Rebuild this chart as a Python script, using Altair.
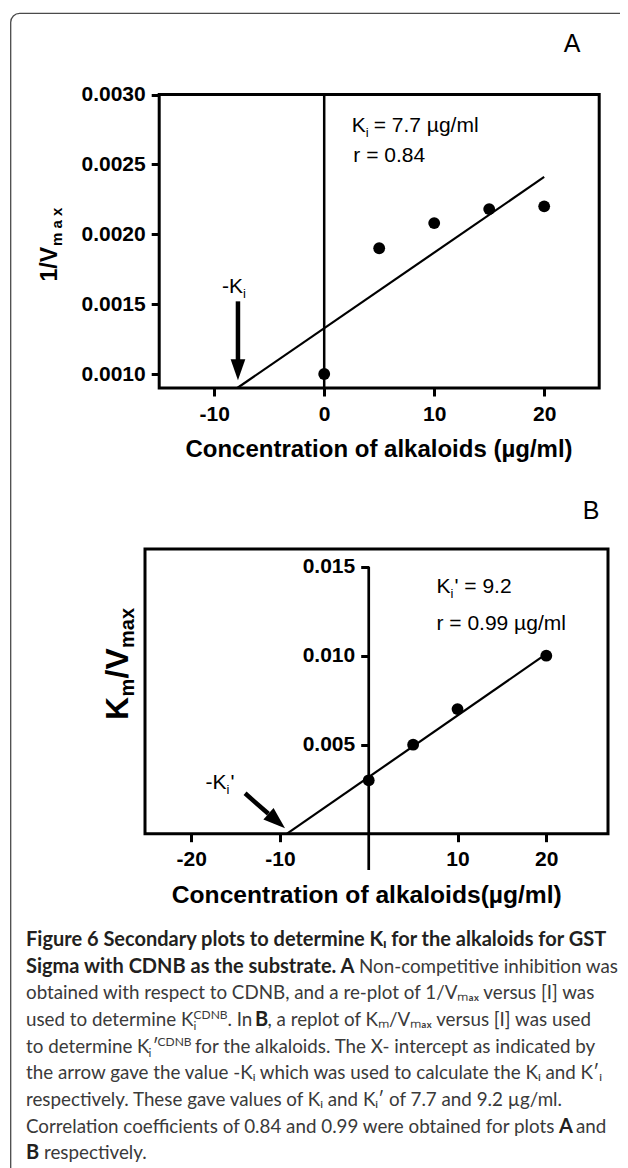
import altair as alt
import pandas as pd

# ---------------- values ----------------
a_conc = [0, 5, 10, 15, 20]
a_inv_vmax = [0.00100, 0.00190, 0.00208, 0.00218, 0.00220]
a_fit_conc = [-7.9, 20.0]
a_fit_value = [0.00090, 0.00241]
a_x_ticks = [-10, 0, 10, 20]
a_y_ticks = [0.0010, 0.0015, 0.0020, 0.0025, 0.0030]

b_conc = [0, 5, 10, 20]
b_km_vmax = [0.0030, 0.0050, 0.0070, 0.0100]
b_fit_conc = [-9.2, 20.0]
b_fit_value = [0.0, 0.0101]
b_x_ticks = [-20, -10, 10, 20]
b_y_ticks = [0.005, 0.010, 0.015]

x_title_a = "Concentration of alkaloids (µg/ml)"
x_title_b = "Concentration of alkaloids(µg/ml)"

# caption runs: (text, kind) with kind r=regular, b=bold, sub, sup
caption_runs = [
    [("Figure 6 Secondary plots to determine Kᵢ for the alkaloids for GST", "b")],
    [("Sigma with CDNB as the substrate. A", "b"), ("Non-competitive inhibition was", "r")],
    [("obtained with respect to CDNB, and a re-plot of 1/Vₘₐₓ versus [I] was", "r")],
    [("used to determine K", "r"), ("i", "sub"), ("CDNB", "sup"), (". In", "r"), ("B", "b"),
     (", a replot of Kₘ/Vₘₐₓ versus [I] was used", "r")],
    [("to determine K", "r"), ("i", "sub"), ("′", "r"), ("CDNB", "sup"),
     ("for the alkaloids. The X- intercept as indicated by", "r")],
    [("the arrow gave the value -Kᵢ which was used to calculate the Kᵢ and K′ᵢ", "r")],
    [("respectively. These gave values of Kᵢ and Kᵢ′ of 7.7 and 9.2 µg/ml.", "r")],
    [("Correlation coefficients of 0.84 and 0.99 were obtained for plots", "r"), ("A", "b"), ("and", "r")],
    [("B", "b"), ("respectively.", "r")],
]

# ---------------- layout (canvas pixels) ----------------
W, H = 612, 1160
OFF = 8  # page margin


def cx(px):
    return px - OFF


def cy(py):
    return py - OFF


FONT = "Liberation Sans"
CAP_FONT = "Lato"

A_XDOM = [-15, 25]
A_YDOM = [0.0009, 0.0030]
A_XR = [cx(159.2), cx(599.2)]
A_YR = [cy(388.0), cy(94.5)]

B_XDOM = [-25.2, 26.95]
B_YDOM = [0.0, 0.016]
B_XR = [cx(145.0), cx(608.0)]
B_YR = [cy(833.7), cy(548.9)]


def S(dom, rng):
    return alt.Scale(domain=dom, range=rng, nice=False, zero=False)


ONE = pd.DataFrame({"k": [0]})

axis_style = dict(
    domain=False, grid=False, ticks=True, tickSize=8, tickWidth=3, tickColor="black",
    labelFont=FONT, labelFontWeight="bold", labelFontSize=21, labelColor="black",
    labelFlush=False, labelOverlap=False, title=None, zindex=1,
    labelExpr="replace(datum.label, '\u2212', '-')",
)


class Panel:
    def __init__(self, xdom, ydom, xr, yr):
        self.xdom, self.ydom, self.xr, self.yr = xdom, ydom, xr, yr

    def X(self, field, axis=None):
        return alt.X(field, scale=S(self.xdom, self.xr), axis=axis)

    def Y(self, field, axis=None):
        return alt.Y(field, scale=S(self.ydom, self.yr), axis=axis)

    def XD(self, v):
        return alt.XDatum(v, scale=S(self.xdom, self.xr), axis=None)

    def YD(self, v):
        return alt.YDatum(v, scale=S(self.ydom, self.yr), axis=None)

    def label(self, text, x, y, size=21, dx=0, dy=0):
        return alt.Chart(ONE).mark_text(
            text=text, fontSize=size, dx=dx, dy=dy, align="left",
            baseline="alphabetic", font=FONT, color="black",
        ).encode(x=self.XD(x), y=self.YD(y))

    def frame(self):
        df = pd.DataFrame({"x": [self.xdom[0]], "x2": [self.xdom[1]],
                           "y": [self.ydom[0]], "y2": [self.ydom[1]]})
        return alt.Chart(df).mark_rect(fillOpacity=0, stroke="black", strokeWidth=3).encode(
            x=self.X("x:Q"), x2="x2:Q", y=self.Y("y:Q"), y2="y2:Q")

    def head(self, x, y, size, angle):
        return alt.Chart(ONE).mark_point(
            shape="M-0.7,-1L0.7,-1L0,1Z", filled=True, color="black", opacity=1,
            size=size, angle=angle,
        ).encode(x=self.XD(x), y=self.YD(y))

    def shaft(self, x1, y1, x2, y2, width):
        df = pd.DataFrame({"x": [x1, x2], "y": [y1, y2]})
        return alt.Chart(df).mark_line(color="black", strokeWidth=width).encode(
            x=self.X("x:Q"), y=self.Y("y:Q"))

    def zero_rule(self, y1, y2, width):
        return alt.Chart(ONE).mark_rule(color="black", strokeWidth=width).encode(
            x=self.XD(0), y=self.YD(y1), y2=alt.Y2Datum(y2))


# ---------------- panel A ----------------
pA = Panel(A_XDOM, A_YDOM, A_XR, A_YR)
dfA = pd.DataFrame({"conc": a_conc, "val": a_inv_vmax})
fitA = pd.DataFrame({"conc": a_fit_conc, "val": a_fit_value})

axA_x = alt.Axis(orient="bottom", offset=-(H - A_YR[0]), values=a_x_ticks, format="d",
                 labelPadding=7, **axis_style)
axA_y = alt.Axis(orient="left", offset=-A_XR[0], values=a_y_ticks, format=".4f",
                 labelPadding=6, **axis_style)

layers_A = [
    pA.frame(),
    pA.zero_rule(A_YDOM[0], A_YDOM[1], 2.5),
    alt.Chart(fitA).mark_line(color="black", strokeWidth=2.2).encode(
        x=pA.X("conc:Q"), y=pA.Y("val:Q")),
    alt.Chart(dfA).mark_circle(size=140, color="black", opacity=1).encode(
        x=pA.X("conc:Q", axA_x), y=pA.Y("val:Q", axA_y)),
    pA.label("K", 2.5, 0.00273),
    pA.label("i", 2.5, 0.00273, size=13, dx=14, dy=5),
    pA.label("= 7.7 µg/ml", 2.5, 0.00273, dx=22),
    pA.label("r = 0.84", 2.65, 0.00252),
    pA.label("-K", -9.3, 0.00158),
    pA.label("i", -9.3, 0.00158, size=13, dx=21, dy=5),
    pA.shaft(-7.84, 0.00152, -7.84, 0.00110, 4.5),
    pA.head(-7.84, 0.00103, 441, 0),
]

# ---------------- panel B ----------------
pB = Panel(B_XDOM, B_YDOM, B_XR, B_YR)
dfB = pd.DataFrame({"conc": b_conc, "val": b_km_vmax})
fitB = pd.DataFrame({"conc": b_fit_conc, "val": b_fit_value})

axB_x = alt.Axis(orient="bottom", offset=-(H - B_YR[0]), values=b_x_ticks, format="d",
                 labelPadding=7, **axis_style)
axB_y = alt.Axis(orient="left", offset=-(cx(368.7)), values=b_y_ticks, format=".3f",
                 labelPadding=6, **axis_style)

layers_B = [
    pB.frame(),
    pB.zero_rule(b_y_ticks[-1], -0.00204, 2.7),
    alt.Chart(fitB).mark_line(color="black", strokeWidth=2.2).encode(
        x=pB.X("conc:Q"), y=pB.Y("val:Q")),
    alt.Chart(dfB).mark_circle(size=140, color="black", opacity=1).encode(
        x=pB.X("conc:Q", axB_x), y=pB.Y("val:Q", axB_y)),
    pB.label("K", 7.63, 0.01352),
    pB.label("i", 7.63, 0.01352, size=13, dx=14, dy=5),
    pB.label("' = 9.2", 7.63, 0.01352, dx=18),
    pB.label("r = 0.99 µg/ml", 7.63, 0.01144),
    pB.label("-K", -18.38, 0.00251),
    pB.label("i", -18.38, 0.00251, size=13, dx=21, dy=5),
    pB.label("'", -18.38, 0.00251, dx=25),
    pB.shaft(-13.93, 0.00227, -11.3, 0.00112, 4.5),
    pB.head(-10.36, 0.000713, 484, 311.2),
]


# ---------------- titles, labels, frame, caption (pixel placed) ----------------
def ptext(text, px, py, size, weight="normal", align="left", angle=0, font=FONT, color="black"):
    props = dict(text=text, fontSize=size, fontWeight=weight, align=align,
                 baseline="alphabetic", font=font, color=color)
    if angle:
        props["angle"] = angle
    return alt.Chart(ONE).mark_text(**props).encode(
        x=alt.value(cx(px)), y=alt.value(cy(py))
    )


border = alt.Chart(ONE).mark_rect(
    fillOpacity=0, stroke="#4a4a4a", strokeWidth=1.3, cornerRadius=9
).encode(
    x=alt.value(cx(10.7)), y=alt.value(cy(13.3)), x2=alt.value(W + 60), y2=alt.value(H + 60)
)

titles = [
    ptext("A", 572, 51.7, 25, align="center"),
    ptext("B", 591, 519.3, 25, align="center"),
    ptext(x_title_a, 379, 456.7, 24, weight="bold", align="center"),
    ptext(x_title_b, 366.8, 903.3, 24.6, weight="bold", align="center"),
    # 1/Vmax (rotated)
    ptext("1/V", 56.7, 281.5, 23, weight="bold", angle=270),
    ptext("m a x", 61.5, 246.0, 15, weight="bold", angle=270),
    # Km/Vmax (rotated)
    ptext("K", 127.5, 720.0, 32, weight="bold", angle=270),
    ptext("m", 133.5, 696.5, 20, weight="bold", angle=270),
    ptext("/V", 127.5, 678.5, 32, weight="bold", angle=270),
    ptext("max", 133.5, 648.0, 20, weight="bold", angle=270),
]

caption_x = [
    [26],
    [26, 359],
    [26],
    [26, 193.5, 193.5, 227.5, 255, 267.5],
    [26, 148.5, 152.5, 157.5, 195],
    [26],
    [26],
    [26, 559, 576],
    [26, 44],
]
rows = []
for i, (runs, xs) in enumerate(zip(caption_runs, caption_x)):
    for (txt, kind), px in zip(runs, xs):
        rows.append({"text": txt, "x": cx(px), "y": cy(946 + i * 26.65), "kind": kind})
cap_df = pd.DataFrame(rows)

CAP_STYLE = {
    "r": dict(fontSize=18.8, fontWeight="normal", color="#3a3a3a", dy=0),
    "b": dict(fontSize=20, fontWeight="bold", color="#231f20", dy=0),
    "sub": dict(fontSize=12, fontWeight="normal", color="#3a3a3a", dy=4),
    "sup": dict(fontSize=12, fontWeight="normal", color="#3a3a3a", dy=-7),
}


def caption_layer(kind):
    st = CAP_STYLE[kind]
    props = dict(font=CAP_FONT, fontSize=st["fontSize"], fontWeight=st["fontWeight"],
                 align="left", baseline="alphabetic", color=st["color"])
    if st["dy"]:
        props["dy"] = st["dy"]
    return alt.Chart(cap_df[cap_df["kind"] == kind]).mark_text(**props).encode(
        x=alt.X("x:Q", scale=None, axis=None),
        y=alt.Y("y:Q", scale=None, axis=None),
        text="text:N",
    )


chart = alt.layer(
    border, *layers_A, *layers_B, *titles, *[caption_layer(k) for k in CAP_STYLE]
).resolve_scale(x="independent", y="independent").properties(
    width=W, height=H, autosize=alt.AutoSizeParams(type="none"), padding=0,
    background="white",
).configure_view(stroke="transparent")

chart.save("out.html", embed_options={"renderer": "svg", "actions": False})
